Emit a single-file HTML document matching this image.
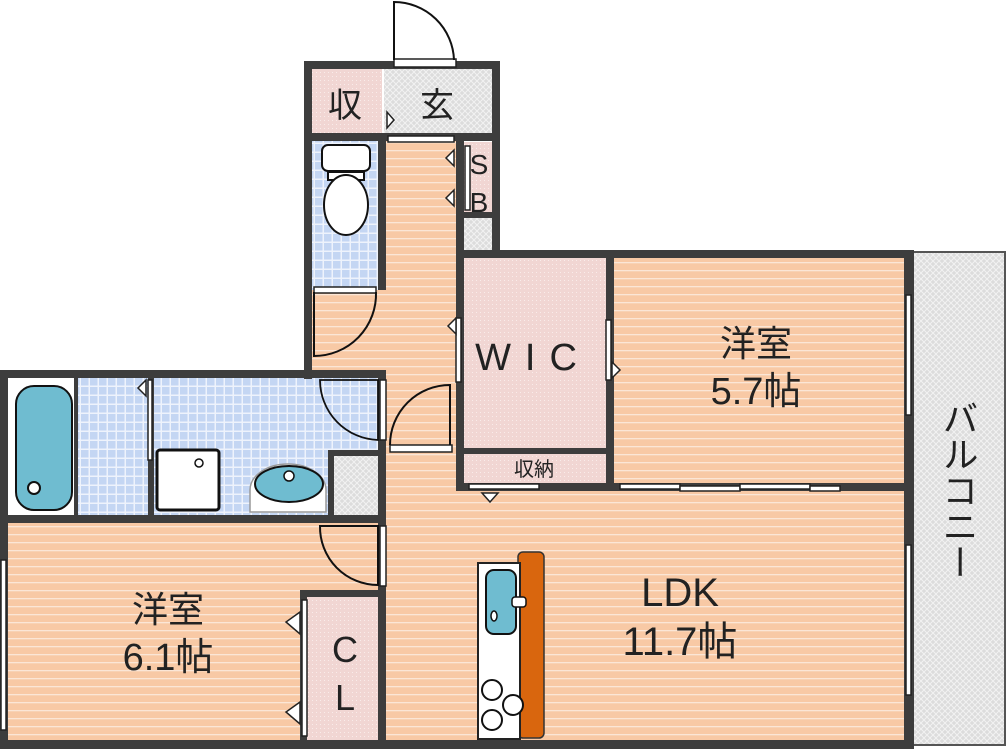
<!DOCTYPE html>
<html><head><meta charset="utf-8"><style>html,body{margin:0;padding:0;background:#fff}svg{display:block}text{font-family:"Liberation Sans","Noto Sans CJK JP",sans-serif;fill:#222}</style></head><body>
<svg width="1007" height="749" viewBox="0 0 1007 749" xmlns="http://www.w3.org/2000/svg">
<defs>
<pattern id="fl" width="8" height="8" patternUnits="userSpaceOnUse"><rect width="8" height="8" fill="#f8c9a5"/><rect y="6" width="8" height="1.3" fill="#fbe6d6"/></pattern>
<pattern id="bl" width="9" height="9" patternUnits="userSpaceOnUse"><rect width="9" height="9" fill="#c4d6f3"/><rect x="7.5" width="1.5" height="9" fill="#eef3fc"/><rect y="7.5" width="9" height="1.5" fill="#eef3fc"/></pattern>
<pattern id="gr" width="6" height="6" patternUnits="userSpaceOnUse"><rect width="6" height="6" fill="#dcdcdc"/><path d="M0 0L6 6M6 0L0 6" stroke="#f2f2f2" stroke-width="1"/></pattern>
<pattern id="pk" width="4" height="4" patternUnits="userSpaceOnUse"><rect width="4" height="4" fill="#f1d6d3"/><rect width="1" height="1" fill="#f9ecea"/></pattern>
</defs>
<rect x="312" y="140" width="150" height="240" fill="url(#fl)"/>
<rect x="380" y="375" width="530" height="370" fill="url(#fl)"/>
<rect x="8" y="520" width="380" height="225" fill="url(#fl)"/>
<rect x="612" y="256" width="296" height="232" fill="url(#fl)"/>
<rect x="312" y="140" width="68" height="150" fill="url(#bl)"/>
<rect x="78" y="376" width="302" height="140" fill="url(#bl)"/>
<rect x="8" y="376" width="70" height="140" fill="#fff"/>
<rect x="312" y="68" width="70" height="70" fill="url(#pk)"/>
<rect x="384" y="68" width="110" height="70" fill="url(#gr)"/>
<rect x="462" y="142" width="32" height="70" fill="url(#pk)"/>
<rect x="462" y="218" width="32" height="34" fill="url(#gr)"/>
<rect x="462" y="256" width="146" height="232" fill="url(#pk)"/>
<rect x="332" y="452" width="48" height="64" fill="url(#gr)"/>
<rect x="306" y="596" width="74" height="146" fill="url(#pk)"/>
<rect x="912" y="252" width="93" height="493" fill="url(#gr)" stroke="#555" stroke-width="2"/>
<g fill="#3d3d3d">
<rect x="304" y="61" width="196" height="8"/>
<rect x="304" y="61" width="8" height="318"/>
<rect x="492" y="61" width="8" height="190"/>
<rect x="456" y="250" width="458" height="8"/>
<rect x="456" y="135" width="8" height="355"/>
<rect x="304" y="133" width="190" height="8"/>
<rect x="378" y="138" width="8" height="152"/>
<rect x="462" y="212" width="32" height="6"/>
<rect x="0" y="370" width="386" height="8"/>
<rect x="0" y="370" width="8" height="379"/>
<rect x="0" y="515" width="386" height="8"/>
<rect x="0" y="740" width="914" height="9"/>
<rect x="378" y="370" width="8" height="379"/>
<rect x="328" y="450" width="56" height="6"/><rect x="328" y="450" width="6" height="70"/>
<rect x="456" y="483" width="158" height="8"/>
<rect x="462" y="448" width="150" height="6"/>
<rect x="606" y="250" width="8" height="240"/>
<rect x="904" y="250" width="10" height="499"/>
<rect x="614" y="483" width="294" height="8"/>
<rect x="300" y="590" width="84" height="7"/>
<rect x="300" y="590" width="7" height="155"/>
<rect x="148" y="376" width="6" height="140"/>
<rect x="74" y="376" width="4" height="140"/>
</g>
<g fill="#fff" stroke="#222" stroke-width="1.5">
<rect x="394" y="59" width="62" height="8"/>
<rect x="388" y="136" width="66" height="6"/>
<rect x="314" y="287" width="62" height="6"/>
<rect x="390" y="445" width="62" height="7"/>
<rect x="380" y="380" width="6" height="60"/>
<rect x="380" y="526" width="6" height="60"/>
<rect x="302" y="600" width="5" height="136"/>
<rect x="456" y="318" width="5" height="64"/>
<rect x="469" y="484" width="70" height="5"/>
<rect x="620" y="484" width="60" height="5"/><rect x="680" y="486" width="60" height="5"/><rect x="740" y="484" width="70" height="5"/><rect x="810" y="486" width="30" height="5"/>
<rect x="906" y="295" width="5" height="120"/><rect x="906" y="545" width="5" height="150"/>
<rect x="1" y="560" width="5" height="170"/>
<rect x="148" y="380" width="4" height="80"/>
<rect x="465" y="146" width="5" height="64"/>
<rect x="606" y="320" width="5" height="60"/>
</g>
<g fill="none" stroke="#111" stroke-width="2">
<path d="M394 60V2A60 60 0 0 1 454 60"/>
<path d="M314 292V356A62 62 0 0 0 376 292"/>
<path d="M320 380H378V440A60 60 0 0 1 320 380Z" stroke-width="1.8"/>
<path d="M390 445A60 60 0 0 1 450 385V445"/>
<path d="M320 526H378V585A58 58 0 0 1 320 526Z"/>
</g>
<g fill="#fff" stroke="#222" stroke-width="1.5">
<path d="M387 112L394 120L387 128Z"/>
<path d="M454 150L446 158L454 166Z"/><path d="M454 190L446 198L454 206Z"/>
<path d="M456 318L448 326L456 334Z"/>
<path d="M612 362L620 370L612 378Z"/>
<path d="M146 380L138 388L146 396Z"/>
<path d="M300 612L286 622L300 634Z"/><path d="M300 702L286 712L300 724Z"/>
<path d="M482 493L498 493L490 502Z"/>
</g>
<g fill="#fff" stroke="#111" stroke-width="2"><rect x="322" y="145" width="48" height="26" rx="6"/><rect x="328" y="172" width="36" height="8"/><ellipse cx="346" cy="205" rx="22" ry="30"/></g>
<rect x="16" y="386" width="56" height="124" rx="18" fill="#6fbcd0" stroke="#111" stroke-width="2"/>
<circle cx="34" cy="488" r="6" fill="#fff" stroke="#111" stroke-width="2"/>
<rect x="157" y="450" width="62" height="60" rx="3" fill="#fff" stroke="#111" stroke-width="3"/>
<circle cx="199" cy="463" r="4" fill="#fff" stroke="#111" stroke-width="1.5"/>
<path d="M250 512V490A38 26 0 0 1 326 490V512Z" fill="#fff" stroke="#999" stroke-width="1.5"/>
<ellipse cx="289" cy="484" rx="34" ry="18" fill="#6fbcd0" stroke="#111" stroke-width="2"/>
<circle cx="289" cy="476" r="5" fill="#fff" stroke="#111" stroke-width="1.5"/>
<rect x="518" y="552" width="26" height="186" rx="5" fill="#d9660e" stroke="#333" stroke-width="1.5"/>
<rect x="478" y="563" width="42" height="176" fill="#fff" stroke="#222" stroke-width="2"/>
<rect x="486" y="570" width="30" height="64" rx="8" fill="#6fbcd0" stroke="#111" stroke-width="2"/>
<rect x="512" y="597" width="14" height="10" rx="3" fill="#fff" stroke="#111" stroke-width="1.5"/>
<ellipse cx="494" cy="616" rx="3" ry="5" fill="#fff" stroke="#111" stroke-width="1.5"/>
<g fill="#fff" stroke="#111" stroke-width="2"><circle cx="492" cy="690" r="10"/><circle cx="513" cy="705" r="10"/><circle cx="492" cy="720" r="10"/></g>
<text x="345" y="117" font-size="34" text-anchor="middle">収</text>
<text x="437" y="117" font-size="34" text-anchor="middle">玄</text>
<text x="479" y="174" font-size="28" text-anchor="middle">S</text>
<text x="479" y="212" font-size="28" text-anchor="middle">B</text>
<text x="533" y="370" font-size="38" text-anchor="middle" letter-spacing="14">WIC</text>
<text x="534" y="476" font-size="20" text-anchor="middle">収納</text>
<text x="756" y="356" font-size="36" text-anchor="middle">洋室</text>
<text x="756" y="404" font-size="38" text-anchor="middle">5.7帖</text>
<text x="168" y="622" font-size="36" text-anchor="middle">洋室</text>
<text x="168" y="670" font-size="38" text-anchor="middle">6.1帖</text>
<text x="345" y="662" font-size="36" text-anchor="middle">C</text>
<text x="345" y="710" font-size="36" text-anchor="middle">L</text>
<text x="680" y="606" font-size="40" text-anchor="middle">LDK</text>
<text x="680" y="655" font-size="40" text-anchor="middle">11.7帖</text>
<text x="958" y="490" font-size="36" text-anchor="middle" writing-mode="tb" glyph-orientation-vertical="0">バルコニー</text>
</svg>
</body></html>
